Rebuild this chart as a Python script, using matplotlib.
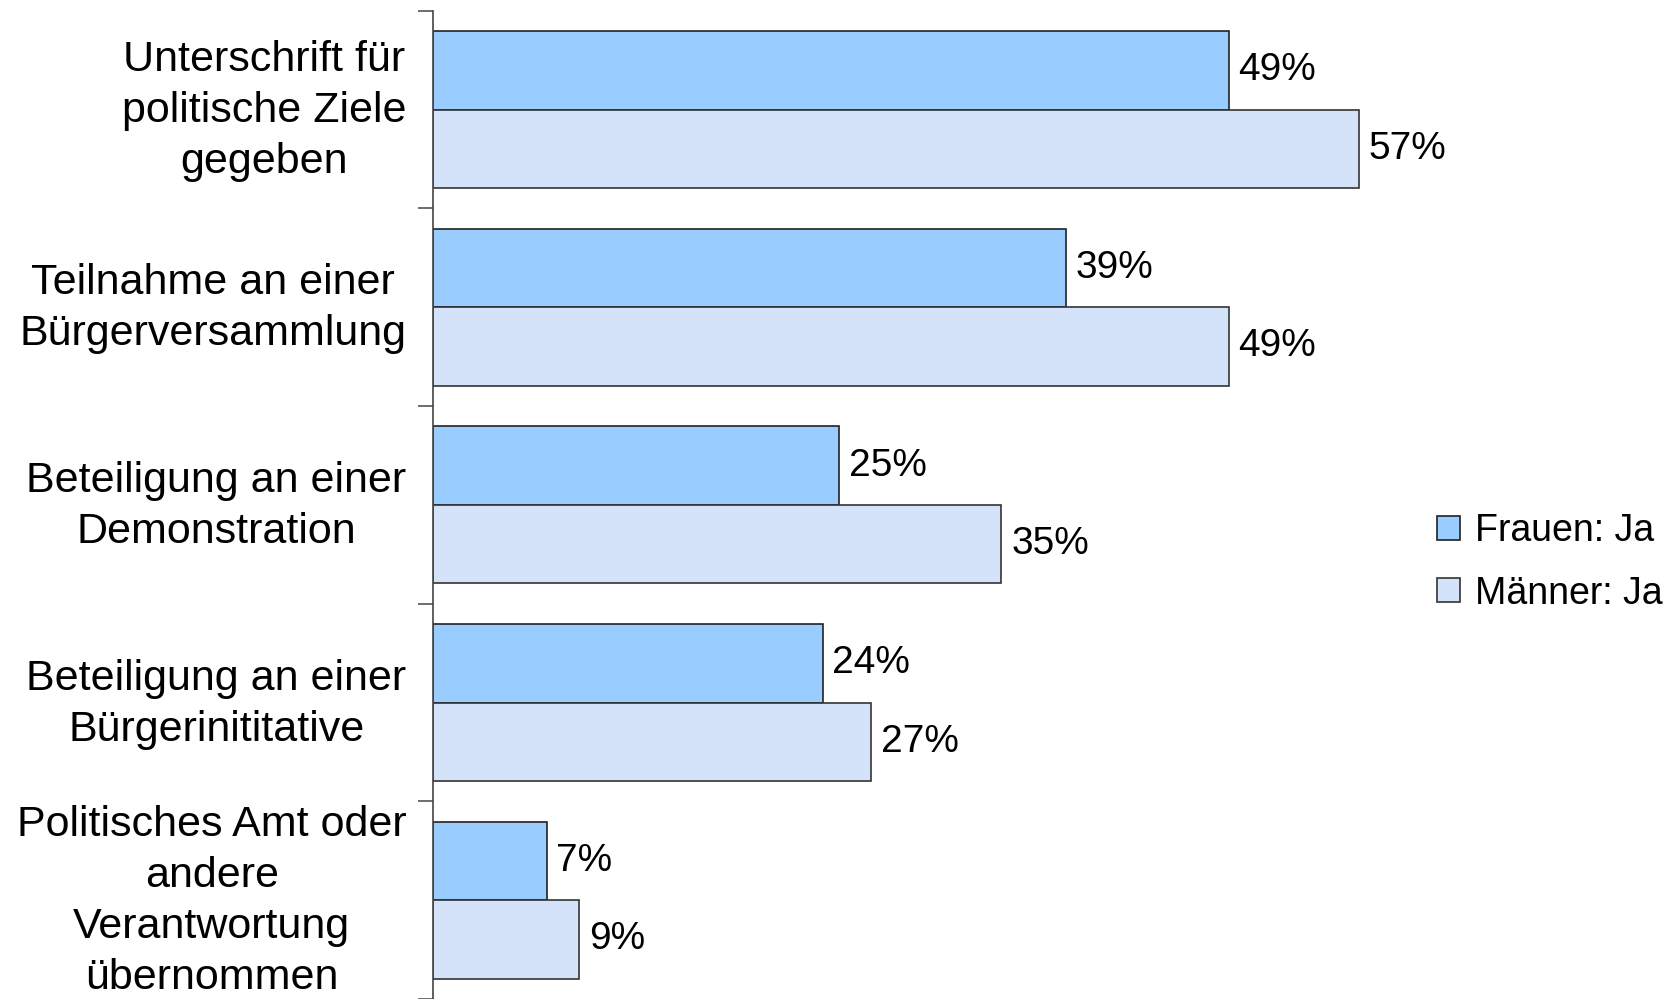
import matplotlib.pyplot as plt
from matplotlib.transforms import ScaledTranslation
import numpy as np

plt.rcParams["font.family"] = ["Liberation Sans", "DejaVu Sans"]

categories = [
    "Unterschrift für\npolitische Ziele\ngegeben",
    "Teilnahme an einer\nBürgerversammlung",
    "Beteiligung an einer\nDemonstration",
    "Beteiligung an einer\nBürgerinititative",
    "Politisches Amt oder\nandere\nVerantwortung\nübernommen",
]
frauen = [49, 39, 25, 24, 7]
maenner = [57, 49, 35, 27, 9]
series_names = ["Frauen: Ja", "Männer: Ja"]

fig = plt.figure(figsize=(16.71, 9.99), dpi=100)
ax = fig.add_axes([0.2591, 0.0, 0.5831, 0.9893])

y = np.arange(len(categories))
h = 0.3965
b1 = ax.barh(y - h / 2, frauen, height=h, color="#99ccff", edgecolor="#222222",
             linewidth=1.2, label=series_names[0])
b2 = ax.barh(y + h / 2, maenner, height=h, color="#d4e2fa", edgecolor="#333333",
             linewidth=1.2, label=series_names[1])

ax.bar_label(b1, labels=[f"{v}%" for v in frauen], padding=7, fontsize=28)
ax.bar_label(b2, labels=[f"{v}%" for v in maenner], padding=7, fontsize=28)

ax.set_xlim(0, 60)
ax.set_ylim(len(categories) - 0.5, -0.5)

# group boundaries get tick marks, centers get the labels
ax.set_yticks(np.arange(-0.5, len(categories), 1))
ax.set_yticklabels([])
ax.set_yticks(y, minor=True)
ax.set_yticklabels(categories, minor=True, fontsize=31, ha="right",
                   multialignment="center", linespacing=1.36)
ax.tick_params(axis="y", which="major", length=11, width=1.2, color="#555555")
ax.tick_params(axis="y", which="minor", length=0, pad=19)
# nudge category labels up a little
shift = ScaledTranslation(0, 0.085, fig.dpi_scale_trans)
for lab in ax.get_yticklabels(minor=True):
    lab.set_transform(lab.get_transform() + shift)

ax.set_xticks([])
for s in ["top", "right", "bottom"]:
    ax.spines[s].set_visible(False)
ax.spines["left"].set_color("#444444")
ax.spines["left"].set_linewidth(1.2)

fig.legend(loc="center left", bbox_to_anchor=(0.84, 0.437), frameon=False,
           fontsize=27, handlelength=0.6, handleheight=0.6, handletextpad=0.4,
           labelspacing=0.7)

fig.savefig("out.png", dpi=100)
